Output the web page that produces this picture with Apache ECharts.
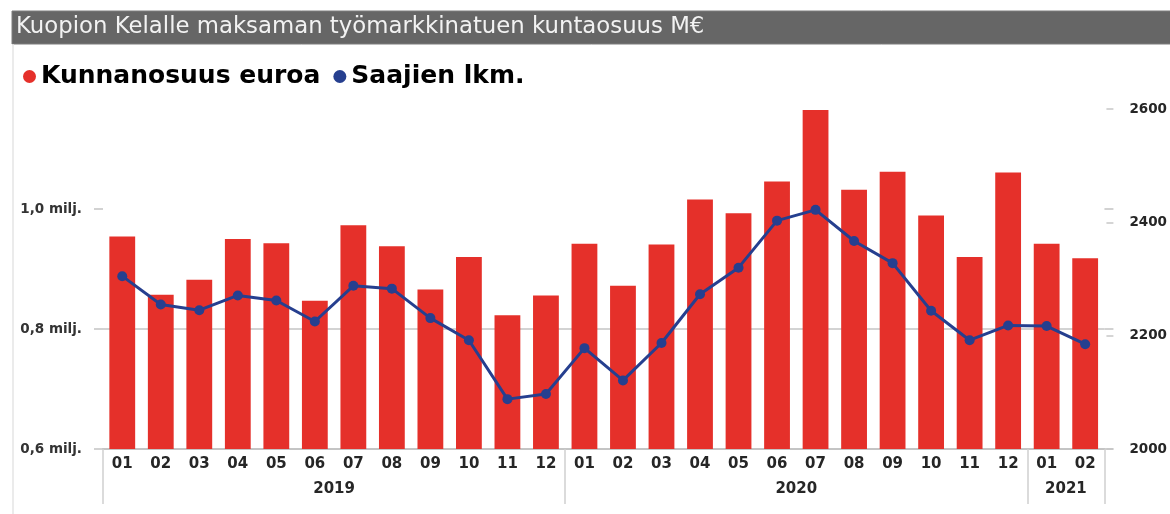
<!DOCTYPE html>
<html>
<head>
<meta charset="utf-8">
<title>Kuopion Kelalle maksaman työmarkkinatuen kuntaosuus</title>
<script src="https://cdn.jsdelivr.net/npm/echarts@6/dist/echarts.min.js"></script>
<style>
  html, body { margin: 0; padding: 0; background: #ffffff; }
  #chart { width: 1170px; height: 514px; }
</style>
</head>
<body>
<div id="chart"></div>
<script>
// kuukaudet ja vuodet
const months = ["01", "02", "03", "04", "05", "06", "07", "08", "09", "10", "11", "12",
                "01", "02", "03", "04", "05", "06", "07", "08", "09", "10", "11", "12",
                "01", "02"];
const years = ["2019", "2020", "2021"];
const monthsPerYear = [12, 12, 2];

// kunnanosuus, milj. euroa
const kunnanosuus = [0.954, 0.857, 0.882, 0.950, 0.943, 0.847, 0.973, 0.938, 0.866, 0.920, 0.823, 0.856,
                     0.942, 0.872, 0.941, 1.016, 0.993, 1.046, 1.165, 1.032, 1.062, 0.989, 0.920, 1.061,
                     0.942, 0.918];
// saajien lukumäärä
const saajat = [2305, 2255, 2245, 2271, 2262, 2225, 2288, 2283, 2231, 2192, 2088, 2097,
                2178, 2121, 2187, 2273, 2320, 2403, 2422, 2367, 2328, 2244, 2192, 2218,
                2217, 2185];

const leftTicks = [0.6, 0.8, 1.0];
const rightTicks = [2000, 2200, 2400, 2600];

// vuosiakselin rajat ja otsikot (pisteet 0..26 kuukausien välissä)
const yearBounds = [0];
const yearAxisData = new Array(months.length + 1).fill("");
monthsPerYear.forEach((n, i) => {
  const start = yearBounds[yearBounds.length - 1];
  yearBounds.push(start + n);
  yearAxisData[start + n / 2] = years[i];
});

const leftMin = 0.6;
const leftMax = 0.6 + 340 / 600;
const boldFont = "DejaVu Sans";

const chart = echarts.init(document.getElementById("chart"));

const option = {
  backgroundColor: "#ffffff",
  animation: false,
  title: {
    text: "Kuopion Kelalle maksaman työmarkkinatuen kuntaosuus M€",
    left: 16,
    top: 14,
    padding: 0,
    textStyle: {
      fontFamily: "DejaVu Sans",
      fontSize: 22.8,
      fontWeight: "normal",
      color: "#f2f2f2",
      lineHeight: 26,
    },
  },
  graphic: [
    {
      type: "rect",
      z: -1,
      shape: { x: 12, y: 11, width: 1160, height: 33 },
      style: { fill: "#666666", stroke: "#7d7d7d", lineWidth: 1 },
    },
    {
      type: "line",
      shape: { x1: 13, y1: 44, x2: 13, y2: 514 },
      style: { stroke: "#e4e4e4", lineWidth: 1.5 },
    },
  ],
  legend: {
    left: 23,
    top: 64,
    padding: 0,
    itemGap: 13,
    itemWidth: 13,
    itemHeight: 13,
    icon: "circle",
    textStyle: {
      fontFamily: boldFont,
      fontWeight: "bold",
      fontSize: 25,
      color: "#000000",
    },
    data: ["Kunnanosuus euroa", "Saajien lkm."],
  },
  grid: {
    left: 103,
    right: 59,
    top: 109,
    bottom: 65,
    containLabel: false,
  },
  xAxis: [
    {
      type: "category",
      data: months,
      axisLine: { lineStyle: { color: "#c4c4c4", width: 2 } },
      axisTick: { show: false },
      axisLabel: {
        interval: 0,
        margin: 8,
        fontFamily: boldFont,
        fontWeight: "bold",
        fontSize: 15,
        color: "#262626",
      },
    },
    {
      // vuodet
      type: "category",
      position: "bottom",
      boundaryGap: false,
      data: yearAxisData,
      axisLine: { show: false },
      axisTick: {
        show: true,
        length: 55,
        interval: (idx) => yearBounds.indexOf(idx) >= 0,
        lineStyle: { color: "#d0d0d0", width: 1.5 },
      },
      axisLabel: {
        interval: 0,
        margin: 33,
        fontFamily: boldFont,
        fontWeight: "bold",
        fontSize: 15,
        color: "#262626",
      },
    },
  ],
  yAxis: [
    {
      type: "value",
      position: "left",
      min: leftMin,
      max: leftMax,
      interval: 0.2,
      axisLine: { show: false },
      axisTick: {
        show: true,
        length: 9,
        customValues: leftTicks,
        lineStyle: { color: "#c4c4c4", width: 1.5 },
      },
      splitLine: {
        show: true,
        showMinLine: false,
        showMaxLine: false,
        lineStyle: { color: "#c4c4c4", width: 1.5 },
      },
      axisLabel: {
        margin: 21,
        customValues: leftTicks,
        fontFamily: boldFont,
        fontWeight: "bold",
        fontSize: 13.5,
        color: "#333333",
        formatter: (v) => v.toFixed(1).replace(".", ",") + " milj.",
      },
    },
    {
      type: "value",
      position: "right",
      offset: 2,
      min: 2000,
      max: 2600,
      interval: 200,
      axisLine: { show: false },
      axisTick: {
        show: true,
        length: 7,
        customValues: rightTicks,
        lineStyle: { color: "#c8c8c8", width: 1.5 },
      },
      splitLine: { show: false },
      axisLabel: {
        margin: 23,
        customValues: rightTicks,
        fontFamily: boldFont,
        fontWeight: "bold",
        fontSize: 13.5,
        color: "#262626",
        formatter: (v) => String(v),
      },
    },
    {
      // vasemman akselin apuviivat jatkuvat oikealle
      type: "value",
      position: "right",
      min: leftMin,
      max: leftMax,
      axisLine: { show: false },
      axisTick: {
        show: true,
        length: 9,
        customValues: leftTicks,
        lineStyle: { color: "#c4c4c4", width: 1.5 },
      },
      axisLabel: { show: false },
      splitLine: { show: false },
    },
  ],
  series: [
    {
      name: "Kunnanosuus euroa",
      type: "bar",
      yAxisIndex: 0,
      data: kunnanosuus,
      barCategoryGap: "33%",
      itemStyle: { color: "#e5302a" },
    },
    {
      name: "Saajien lkm.",
      type: "line",
      yAxisIndex: 1,
      data: saajat,
      symbol: "circle",
      symbolSize: 10,
      lineStyle: { color: "#263f8f", width: 3 },
      itemStyle: { color: "#263f8f" },
    },
  ],
};

chart.setOption(option);
</script>
</body>
</html>
